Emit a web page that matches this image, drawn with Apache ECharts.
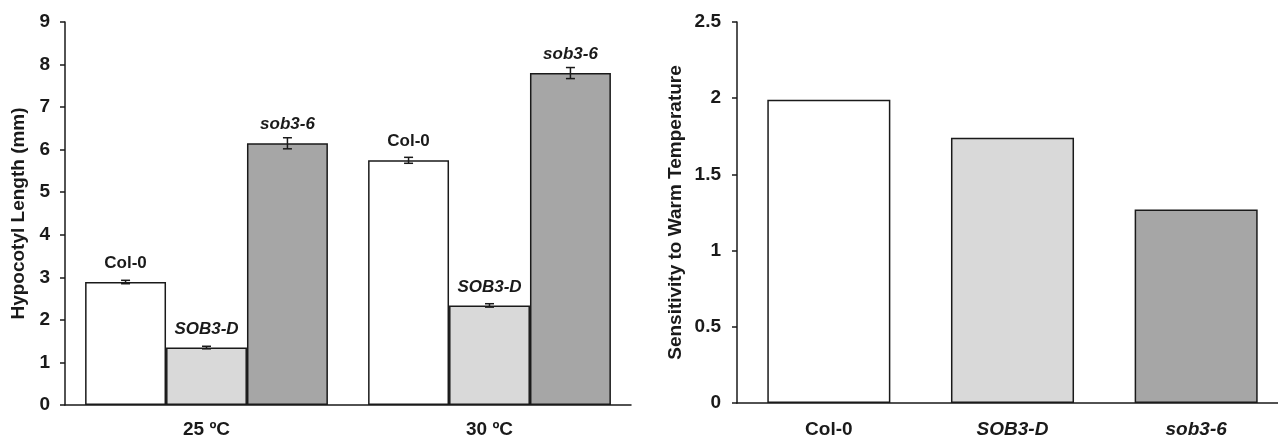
<!DOCTYPE html>
<html>
<head>
<meta charset="utf-8">
<script src="https://cdn.jsdelivr.net/npm/echarts@6/dist/echarts.min.js"></script>
<style>html,body{margin:0;padding:0;background:#fff;overflow:hidden}#c{width:1290px;height:440px}</style>
</head>
<body>
<div id="c"></div>
<script>
// ---- Data ----
const tempCategories = ['25 \u00baC', '30 \u00baC'];
const genotypes = ['Col-0', 'SOB3-D', 'sob3-6'];
const colLength = [2.89, 5.75];
const sobDLength = [1.35, 2.34];
const sob36Length = [6.15, 7.80];
const colErr = [0.04, 0.07];
const sobDErr = [0.03, 0.04];
const sob36Err = [0.13, 0.13];
const sensitivity = [1.99, 1.74, 1.27];
const leftTicks = { min: 0, max: 9, interval: 1 };
const rightTicks = { min: 0, max: 2.5, interval: 0.5 };

const colors = ['#ffffff', '#d9d9d9', '#a6a6a6'];
const italicFlags = [false, true, true];
const lengths = [colLength, sobDLength, sob36Length];
const errs = [colErr, sobDErr, sob36Err];
const FONT = '"Liberation Sans", Arial, sans-serif';
const INK = '#1a1a1a';
const BAR_FRAC = 0.286;

const chart = echarts.init(document.getElementById('c'));

const series = [];
genotypes.forEach((g, i) => {
  series.push({
    type: 'bar', name: g, xAxisIndex: 0, yAxisIndex: 0,
    data: lengths[i],
    barWidth: (BAR_FRAC * 100) + '%', barGap: '0%',
    itemStyle: { color: colors[i], borderColor: INK, borderWidth: 1.5 },
    label: {
      show: true, position: 'top', distance: 10, formatter: g,
      fontFamily: FONT, fontWeight: 'bold', fontSize: 17,
      fontStyle: italicFlags[i] ? 'italic' : 'normal', color: INK
    },
    silent: true, animation: false
  });
});
genotypes.forEach((g, i) => {
  series.push({
    type: 'custom', name: g + ' err', xAxisIndex: 0, yAxisIndex: 0, z: 5,
    data: lengths[i].map((v, k) => [k, v, errs[i][k]]),
    encode: { x: 0, y: 1 },
    renderItem: function (params, api) {
      const k = api.value(0), v = api.value(1), e = api.value(2);
      const band = api.size([1, 0])[0];
      const off = (i - 1) * band * BAR_FRAC;
      const top = api.coord([k, v + e]);
      const bot = api.coord([k, v - e]);
      const x = top[0] + off;
      const hw = 4.5;
      const st = { stroke: INK, lineWidth: 1.5 };
      return {
        type: 'group', children: [
          { type: 'line', shape: { x1: x, y1: top[1], x2: x, y2: bot[1] }, style: st },
          { type: 'line', shape: { x1: x - hw, y1: top[1], x2: x + hw, y2: top[1] }, style: st },
          { type: 'line', shape: { x1: x - hw, y1: bot[1], x2: x + hw, y2: bot[1] }, style: st }
        ]
      };
    },
    silent: true, animation: false
  });
});
series.push({
  type: 'bar', xAxisIndex: 1, yAxisIndex: 1,
  data: sensitivity.map((v, i) => ({ value: v, itemStyle: { color: colors[i] } })),
  barWidth: '67%',
  itemStyle: { borderColor: INK, borderWidth: 1.5 },
  silent: true, animation: false
});

const axisLabelBase = { fontFamily: FONT, fontWeight: 'bold', fontSize: 19, color: INK };
const nameStyle = { fontFamily: FONT, fontWeight: 'bold', fontSize: 19, color: INK };

chart.setOption({
  backgroundColor: '#ffffff',
  animation: false,
  grid: [
    { left: 65, width: 566, top: 22, bottom: 35 },
    { left: 737, width: 551, top: 22, bottom: 37 }
  ],
  xAxis: [
    {
      type: 'category', gridIndex: 0, data: tempCategories,
      axisLine: { lineStyle: { color: INK, width: 1.5 } },
      axisTick: { show: false },
      axisLabel: Object.assign({ margin: 15 }, axisLabelBase)
    },
    {
      type: 'category', gridIndex: 1,
      data: genotypes.map((g, i) => ({ value: g, textStyle: { fontStyle: italicFlags[i] ? 'italic' : 'normal' } })),
      axisLine: { lineStyle: { color: INK, width: 1.5 } },
      axisTick: { show: false },
      axisLabel: Object.assign({ margin: 17 }, axisLabelBase)
    }
  ],
  yAxis: [
    {
      type: 'value', gridIndex: 0, min: leftTicks.min, max: leftTicks.max, interval: leftTicks.interval,
      name: 'Hypocotyl Length (mm)', nameLocation: 'middle', nameGap: 37, nameRotate: 90,
      nameTextStyle: nameStyle,
      axisLine: { show: true, lineStyle: { color: INK, width: 1.5 } },
      axisTick: { show: true, length: 5, lineStyle: { color: INK, width: 1.5 } },
      splitLine: { show: false },
      axisLabel: Object.assign({ margin: 15 }, axisLabelBase)
    },
    {
      type: 'value', gridIndex: 1, min: rightTicks.min, max: rightTicks.max, interval: rightTicks.interval,
      name: 'Sensitivity to Warm Temperature', nameLocation: 'middle', nameGap: 52, nameRotate: 90,
      nameTextStyle: nameStyle,
      axisLine: { show: true, lineStyle: { color: INK, width: 1.5 } },
      axisTick: { show: true, length: 5, lineStyle: { color: INK, width: 1.5 } },
      splitLine: { show: false },
      axisLabel: Object.assign({ margin: 16 }, axisLabelBase)
    }
  ],
  series: series
});
</script>
</body>
</html>
